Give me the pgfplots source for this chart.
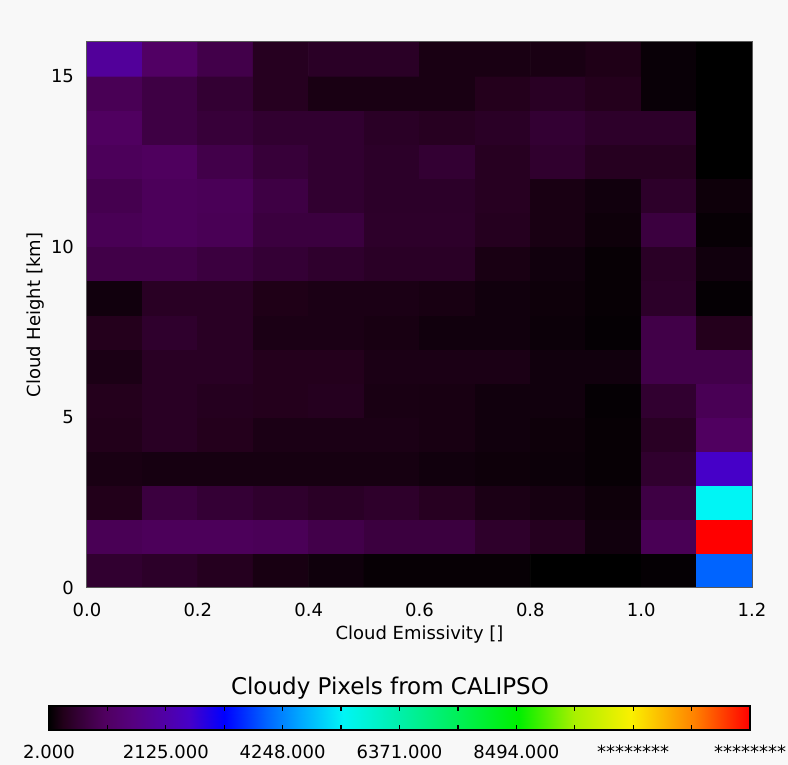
\documentclass[border=0pt]{standalone}
\usepackage{fontspec}
\setmainfont{DejaVu Sans}
\usepackage{pgfplots}
\pgfplotsset{compat=1.18}
\definecolor{bgcol}{RGB}{248,248,248}
\pgfplotsset{colormap={idlrainbow}{
rgb255(0pt)=(0,0,0);
rgb255(20pt)=(34,0,26);
rgb255(40pt)=(51,0,51);
rgb255(60pt)=(66,0,74);
rgb255(80pt)=(80,0,96);
rgb255(120pt)=(86,0,128);
rgb255(167pt)=(80,0,168);
rgb255(200pt)=(70,0,200);
rgb255(250pt)=(0,0,255);
rgb255(310pt)=(0,100,255);
rgb255(360pt)=(0,170,255);
rgb255(420pt)=(0,245,245);
rgb255(500pt)=(0,240,170);
rgb255(580pt)=(0,240,90);
rgb255(670pt)=(0,240,0);
rgb255(750pt)=(170,240,0);
rgb255(830pt)=(250,240,0);
rgb255(920pt)=(255,130,0);
rgb255(1000pt)=(255,0,0)
}}
\pgfplotstableread{
x y c
0.05 0.5 486
0.15 0.5 410
0.25 0.5 308
0.35 0.5 180
0.45 0.5 117
0.55 0.5 53
0.65 0.5 53
0.75 0.5 53
0.85 0.5 5
0.95 0.5 5
1.05 0.5 40
1.15 0.5 3951
0.05 1.5 894
0.15 1.5 957
0.25 1.5 957
0.35 1.5 919
0.45 1.5 766
0.55 1.5 639
0.65 1.5 639
0.75 1.5 435
0.85 1.5 308
0.95 1.5 129
1.05 1.5 894
1.15 1.5 12740
0.05 2.5 257
0.15 2.5 639
0.25 2.5 537
0.35 2.5 448
0.45 2.5 384
0.55 2.5 435
0.65 2.5 333
0.75 2.5 206
0.85 2.5 168
0.95 2.5 104
1.05 2.5 703
1.15 2.5 5352
0.05 3.5 193
0.15 3.5 168
0.25 3.5 168
0.35 3.5 168
0.45 3.5 168
0.55 3.5 168
0.65 3.5 129
0.75 3.5 104
0.85 3.5 91
0.95 3.5 53
1.05 3.5 461
1.15 3.5 2550
0.05 4.5 257
0.15 4.5 359
0.25 4.5 282
0.35 4.5 206
0.45 4.5 206
0.55 4.5 206
0.65 4.5 180
0.75 4.5 129
0.85 4.5 104
0.95 4.5 53
1.05 4.5 359
1.15 4.5 1021
0.05 5.5 282
0.15 5.5 359
0.25 5.5 308
0.35 5.5 282
0.45 5.5 308
0.55 5.5 193
0.65 5.5 180
0.75 5.5 129
0.85 5.5 129
0.95 5.5 40
1.05 5.5 486
1.15 5.5 894
0.05 6.5 206
0.15 6.5 359
0.25 6.5 359
0.35 6.5 282
0.45 6.5 282
0.55 6.5 206
0.65 6.5 206
0.75 6.5 206
0.85 6.5 129
0.95 6.5 129
1.05 6.5 766
1.15 6.5 766
0.05 7.5 282
0.15 7.5 448
0.25 7.5 359
0.35 7.5 206
0.45 7.5 206
0.55 7.5 180
0.65 7.5 129
0.75 7.5 129
0.85 7.5 91
0.95 7.5 40
1.05 7.5 741
1.15 7.5 282
0.05 8.5 129
0.15 8.5 359
0.25 8.5 359
0.35 8.5 231
0.45 8.5 206
0.55 8.5 206
0.65 8.5 180
0.75 8.5 129
0.85 8.5 104
0.95 8.5 53
1.05 8.5 410
1.15 8.5 40
0.05 9.5 741
0.15 9.5 741
0.25 9.5 639
0.35 9.5 537
0.45 9.5 448
0.55 9.5 384
0.65 9.5 384
0.75 9.5 193
0.85 9.5 129
0.95 9.5 53
1.05 9.5 384
1.15 9.5 129
0.05 10.5 894
0.15 10.5 957
0.25 10.5 894
0.35 10.5 639
0.45 10.5 639
0.55 10.5 422
0.65 10.5 422
0.75 10.5 308
0.85 10.5 193
0.95 10.5 104
1.05 10.5 639
1.15 10.5 53
0.05 11.5 830
0.15 11.5 957
0.25 11.5 919
0.35 11.5 703
0.45 11.5 486
0.55 11.5 410
0.65 11.5 410
0.75 11.5 333
0.85 11.5 193
0.95 11.5 129
1.05 11.5 422
1.15 11.5 104
0.05 12.5 957
0.15 12.5 996
0.25 12.5 766
0.35 12.5 575
0.45 12.5 486
0.55 12.5 410
0.65 12.5 511
0.75 12.5 333
0.85 12.5 461
0.95 12.5 320
1.05 12.5 320
1.15 12.5 5
0.05 13.5 1021
0.15 13.5 703
0.25 13.5 575
0.35 13.5 486
0.45 13.5 486
0.55 13.5 384
0.65 13.5 333
0.75 13.5 384
0.85 13.5 511
0.95 13.5 422
1.05 13.5 422
1.15 13.5 5
0.05 14.5 894
0.15 14.5 703
0.25 14.5 511
0.35 14.5 320
0.45 14.5 193
0.55 14.5 193
0.65 14.5 193
0.75 14.5 282
0.85 14.5 359
0.95 14.5 282
1.05 14.5 66
1.15 14.5 5
0.05 15.5 1913
0.15 15.5 1085
0.25 15.5 766
0.35 15.5 320
0.45 15.5 384
0.55 15.5 384
0.65 15.5 193
0.75 15.5 193
0.85 15.5 193
0.95 15.5 231
1.05 15.5 66
1.15 15.5 5
}\cloudtable
\begin{document}
\begin{tikzpicture}
\useasboundingbox (0,0) rectangle (394pt,382.5pt);
\fill[bgcol] (0,0) rectangle (394pt,382.5pt);
\begin{axis}[
  at={(43.5pt,88.5pt)}, anchor=south west,
  scale only axis, width=332.5pt, height=273pt,
  xmin=0, xmax=1.2, ymin=0, ymax=16,
  xtick={0,0.2,0.4,0.6,0.8,1.0,1.2},
  xticklabels={0.0,0.2,0.4,0.6,0.8,1.0,1.2},
  ytick={0,5,10,15}, yticklabels={0,5,10,15},
  tick style={draw=none},
  axis line style={draw=black!65, line width=0.5pt},
  tick label style={font=\fontsize{9}{10}\selectfont},
  xticklabel style={yshift=-4pt},
  yticklabel style={xshift=-3pt},
  xlabel={Cloud Emissivity []},
  ylabel={Cloud Height [km]},
  label style={font=\fontsize{9}{10}\selectfont},
  xlabel style={at={(axis description cs:0.5,0)}, anchor=center, yshift=-23.5pt},
  ylabel style={at={(axis description cs:-0.078,0.5)}, anchor=center},
  colormap name=idlrainbow,
  point meta min=2, point meta max=12740,
  axis on top,
]
\addplot[matrix plot*, mesh/cols=12, point meta=explicit] table[x=x, y=y, meta=c] {\cloudtable};
\end{axis}
% colour bar
\begin{axis}[
  at={(24.5pt,17.5pt)}, anchor=south west,
  scale only axis, width=350.5pt, height=12pt,
  xmin=2, xmax=12740, ymin=0, ymax=1,
  ytick=\empty,
  scaled x ticks=false,
  xtick={2,2125,4248,6371,8494,10617,12740},
  xticklabels={2.000,2125.000,4248.000,6371.000,8494.000,\raisebox{-2.5pt}{********},\raisebox{-2.5pt}{********}},
  minor xtick={1063.5,3186.5,5309.5,7432.5,9555.5,11678.5},
  xtick pos=both, xticklabel pos=lower,
  tick align=inside,
  major tick length=2.5pt, minor tick length=2.5pt,
  tick style={draw=black, line width=0.6pt},
  axis line style={draw=black, line width=0.6pt},
  xticklabel style={font=\fontsize{9}{10}\selectfont, yshift=-4pt},
  colormap name=idlrainbow,
  point meta min=2, point meta max=12740,
  axis on top,
]
\addplot[surf, shader=interp, mesh/cols=2, point meta=x] coordinates {(2,0) (12740,0) (2,1) (12740,1)};
\end{axis}
\node[font=\fontsize{11.5}{13}\selectfont] at (195pt,38.5pt) {Cloudy Pixels from CALIPSO};
\end{tikzpicture}
\end{document}
